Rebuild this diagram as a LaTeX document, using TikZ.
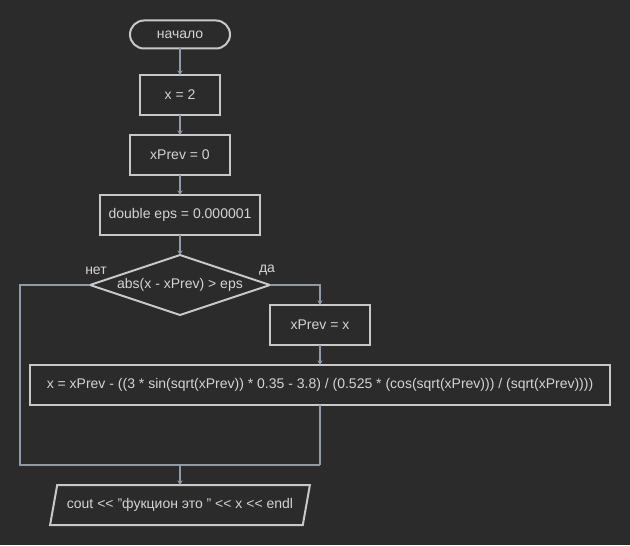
\documentclass[tikz,border=0pt]{standalone}
\usepackage{fontspec}
\setmainfont{Liberation Sans}
\usetikzlibrary{shapes.geometric,arrows.meta}
\definecolor{bgc}{HTML}{2B2B2B}
\definecolor{edgec}{HTML}{C8C8C8}
\definecolor{linec}{HTML}{8E9AA8}
\definecolor{txtc}{HTML}{D4D4D4}
\tikzset{
  block/.style={draw=edgec, line width=1.5pt, text=txtc, font=\fontsize{10.5pt}{12.5pt}\selectfont,
    inner sep=0pt, outer sep=0pt, anchor=center},
  procbox/.style={block, rectangle},
  termbox/.style={block, rounded corners=10.5pt},
  decbox/.style={block, diamond, aspect=3},
  iobox/.style={block, trapezium, trapezium left angle=63.4, trapezium right angle=116.6,
    trapezium stretches=true},
  flow/.style={draw=linec, line width=1.1pt, -{Stealth[length=3.5pt,width=4pt]}},
  plain/.style={draw=linec, line width=1.1pt},
  lbl/.style={text=txtc, font=\fontsize{10.5pt}{12.5pt}\selectfont, inner sep=0pt}
}
\begin{document}
\begin{tikzpicture}[x=0.75pt,y=-0.75pt]
  \fill[bgc] (0,0) rectangle (630,545);
  \useasboundingbox (0,0) rectangle (630,545);
  % start
  \node[termbox, minimum width=75pt, minimum height=21pt] (start) at (180,34.5) {начало};
  % assignments
  \node[procbox, minimum width=60pt, minimum height=30pt] (setx) at (180,95) {x = 2};
  \node[procbox, minimum width=75pt, minimum height=30pt] (setprev) at (180,155) {xPrev = 0};
  \node[procbox, minimum width=120pt, minimum height=30pt] (seteps) at (180,215) {double eps = 0.000001};
  % loop condition
  \node[decbox, minimum width=135pt, minimum height=45pt, inner sep=0pt] (cond) at (180,285) {};
  \node[lbl] at (180,285) {abs(x - xPrev) > eps};
  \node[lbl] (no) at (96,270.5) {нет};
  \node[lbl] (yes) at (267,270.5) {да};
  % loop body
  \node[procbox, minimum width=435pt, minimum height=30pt] (step) at (320,385)
    {x = xPrev - ((3 * sin(sqrt(xPrev)) * 0.35 - 3.8) / (0.525 * (cos(sqrt(xPrev))) / (sqrt(xPrev))))};
  \node[procbox, minimum width=75pt, minimum height=30pt] (keep) at (320,325) {xPrev = x};
  % output
  \node[iobox, minimum height=30pt, minimum width=195pt] (out) at (180,505)
    {cout <{}< "фукцион это " <{}< x <{}< endl};
  % connectors
  \coordinate (leftturn) at (20,465);
  \coordinate (merge) at (180,465);
  \coordinate (rightturn) at (320,465);
  \draw[flow] (start) -- (setx);
  \draw[flow] (setx) -- (setprev);
  \draw[flow] (setprev) -- (seteps);
  \draw[flow] (seteps) -- (cond);
  \draw[flow] (cond.east) -| (keep.north);
  \draw[flow] (keep) -- (step);
  \draw[plain] (step.south) -- (rightturn);
  \draw[plain] (cond.west) -| (leftturn) -- (rightturn);
  \draw[flow] (merge) -- (out);
\end{tikzpicture}
\end{document}
